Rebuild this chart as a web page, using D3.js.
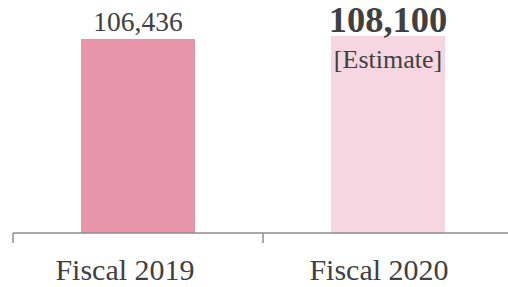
<!DOCTYPE html>
<html>
<head>
<meta charset="utf-8">
<script src="https://cdn.jsdelivr.net/npm/d3@7"></script>
<style>
  body { margin: 0; background: #fff; }
  text { font-family: "Liberation Serif", "Times New Roman", serif; fill: #404040; }
</style>
</head>
<body>
<div id="chart"></div>
<script>
const categories = ["Fiscal 2019", "Fiscal 2020"]
const values = [106436, 108100]
const valueLabels = ["106,436", "108,100"]
const notes = ["", "[Estimate]"]
const barColors = ["#E795AB", "#F6D7E1"]

const width = 508, height = 287
const baseline = 233

const svg = d3.select("#chart")
    .append("svg")
    .attr("width", width)
    .attr("height", height)

const x = d3.scaleBand()
    .domain(categories)
    .range([13, 513])
    .paddingInner(0.544)
    .paddingOuter(0.272)

const y = d3.scaleLinear()
    .domain([0, 127800])
    .range([baseline, 0])

// bars
svg.append("g")
    .selectAll("rect")
    .data(values)
    .enter()
    .append("rect")
    .attr("x", (d, i) => x(categories[i]))
    .attr("y", d => y(d))
    .attr("width", x.bandwidth())
    .attr("height", d => baseline - y(d))
    .attr("fill", (d, i) => barColors[i])

// axis line and ticks at band edges
const axis = svg.append("g").attr("stroke", "#8c8c8c").attr("stroke-width", 1.5)
axis.append("line")
    .attr("x1", 13).attr("x2", width)
    .attr("y1", baseline).attr("y2", baseline)
axis.selectAll("line.tick")
    .data(categories)
    .enter()
    .append("line")
    .attr("class", "tick")
    .attr("x1", d => x(d) - x.step() * x.paddingOuter())
    .attr("x2", d => x(d) - x.step() * x.paddingOuter())
    .attr("y1", baseline).attr("y2", baseline + 10)

// category labels
svg.append("g")
    .selectAll("text")
    .data(categories)
    .enter()
    .append("text")
    .attr("x", (d, i) => x(d) + x.bandwidth() / 2 - (i === 0 ? 13 : 9))
    .attr("y", 280)
    .attr("text-anchor", "middle")
    .attr("font-size", 30)
    .text(d => d)

// value labels
svg.append("g")
    .selectAll("text")
    .data(valueLabels)
    .enter()
    .append("text")
    .attr("x", (d, i) => x(categories[i]) + x.bandwidth() / 2)
    .attr("y", (d, i) => i === 0 ? 31 : 32)
    .attr("text-anchor", "middle")
    .attr("font-size", (d, i) => i === 0 ? 27.5 : 36.5)
    .attr("font-weight", (d, i) => i === 0 ? "normal" : "bold")
    .text(d => d)

svg.append("g")
    .selectAll("text")
    .data(notes)
    .enter()
    .append("text")
    .attr("x", (d, i) => x(categories[i]) + x.bandwidth() / 2)
    .attr("y", 68)
    .attr("text-anchor", "middle")
    .attr("font-size", 26)
    .text(d => d)
</script>
</body>
</html>
